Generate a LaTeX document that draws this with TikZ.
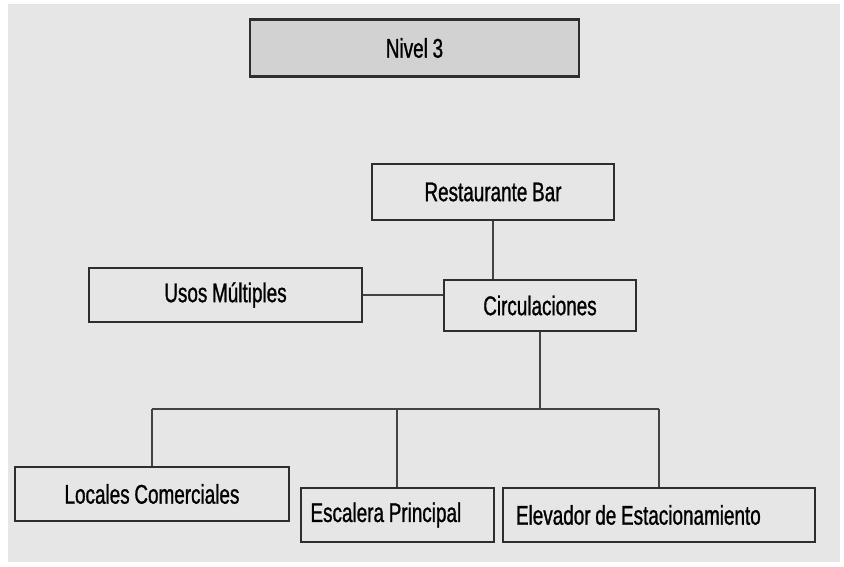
\documentclass[tikz,border=0pt]{standalone}
\usepackage{fontspec}
\setmainfont{Liberation Sans}[FakeStretch=0.7, FakeBold=1, WordSpace=0.9]
\usetikzlibrary{positioning}
\definecolor{paper}{HTML}{E6E6E6}
\definecolor{lid}{HTML}{D2D2D2}
\definecolor{ink}{HTML}{2E2E2E}

\begin{document}
\begin{tikzpicture}[
    x=1pt, y=-1pt,
    font=\fontsize{27}{30}\selectfont,
    box/.style={draw=ink, line width=2pt, fill=paper, align=center,
      inner sep=0pt, minimum height=54pt},
    leftbox/.style={box, align=flush left, inner xsep=10pt},
    title/.style={box, fill=lid, line width=2.8pt, minimum height=57pt},
    link/.style={draw=ink!90, line width=1.8pt}
  ]
    \useasboundingbox (0,0) rectangle (844,567);
    \fill[paper] (8,4) rectangle (840,562);
    \node[title, minimum width=329pt] (nivel) at (414.5,48) {Nivel 3};
    \node[box, minimum width=242pt, minimum height=56pt] (rest) at (493,192) {Restaurante Bar};
    \node[box, minimum width=273pt] (usos) at (225.5,295) {Usos Múltiples};
    \node[box, minimum width=192pt, minimum height=51pt] (circ) at (540,305.5) {Circulaciones};
    \node[box, minimum width=274pt] (locales) at (152,494) {Locales Comerciales};
    \node[leftbox, text width=173pt] (escalera) at (397,515) {Escalera Principal};
    \node[leftbox, inner xsep=13pt, text width=286pt] (elevador) at (659,515) {Elevador de Estacionamiento};
    \coordinate (bus) at (540,409);
    \draw[link] (rest.south) -- (rest.south |- circ.north);
    \draw[link] (usos.east) -- (usos.east -| circ.west);
    \draw[link] (circ.south) -- (bus);
    \draw[link] (locales.north |- bus) -- (elevador.north |- bus);
    \draw[link] (locales.north) -- (locales.north |- bus);
    \draw[link] (escalera.north) -- (escalera.north |- bus);
    \draw[link] (elevador.north) -- (elevador.north |- bus);
  \end{tikzpicture}
\end{document}
